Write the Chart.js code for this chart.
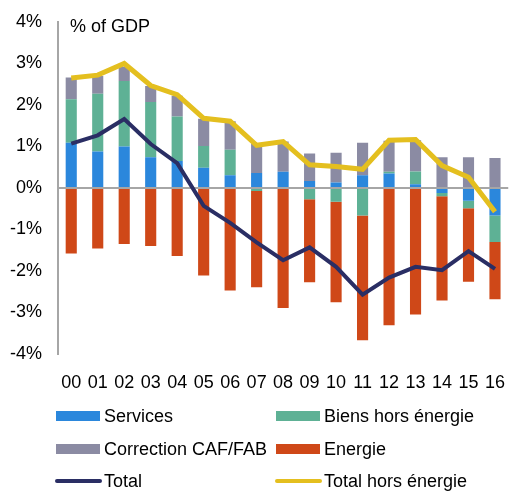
<!DOCTYPE html>
<html>
<head>
<meta charset="utf-8">
<script src="https://cdn.jsdelivr.net/npm/chart.js@4.4.1/dist/chart.umd.min.js"></script>
<style>
  html, body { margin: 0; padding: 0; background: #fff; }
  #wrap { width: 515px; height: 492px; }
</style>
</head>
<body>
<div id="wrap"><canvas id="chart" width="515" height="492"></canvas></div>
<script>
// years (x labels)
const years = ['00', '01', '02', '03', '04', '05', '06', '07', '08', '09', '10', '11', '12', '13', '14', '15', '16'];

// contributions, % of GDP
const services = [1.09, 0.88, 1.00, 0.74, 0.65, 0.49, 0.31, 0.36, 0.39, 0.17, 0.13, 0.31, 0.35, 0.09, -0.12, -0.31, -0.66];
const biensHorsEnergie = [1.05, 1.39, 1.58, 1.33, 1.07, 0.52, 0.61, -0.07, 0, -0.27, -0.33, -0.66, 0.04, 0.31, -0.08, -0.18, -0.64];
const correctionCafFab = [0.52, 0.43, 0.35, 0.39, 0.50, 0.66, 0.69, 0.71, 0.73, 0.66, 0.72, 0.78, 0.75, 0.75, 0.74, 0.74, 0.72];
const energie = [-1.58, -1.46, -1.35, -1.40, -1.64, -2.11, -2.47, -2.32, -2.89, -2.00, -2.42, -3.01, -3.31, -3.05, -2.51, -1.77, -1.38];
const total = [1.07, 1.27, 1.66, 1.06, 0.60, -0.43, -0.84, -1.31, -1.74, -1.43, -1.90, -2.57, -2.16, -1.90, -1.98, -1.52, -1.95];
const totalHorsEnergie = [2.65, 2.72, 3.00, 2.47, 2.25, 1.68, 1.61, 1.03, 1.12, 0.56, 0.52, 0.45, 1.15, 1.17, 0.54, 0.26, -0.57];

// y axis ticks
const yTicks = [-4, -3, -2, -1, 0, 1, 2, 3, 4];

const FONT = "'Liberation Sans', Arial, sans-serif";
const axisGray = '#a6a6a6';

function bar(label, data, color) {
    return {
        type: 'bar', label, data,
        backgroundColor: color,
        stack: 'bars', order: 1,
        barPercentage: 0.42, categoryPercentage: 1
    };
}

function line(label, data, color, width) {
    return {
        type: 'line', label, data,
        borderColor: color, backgroundColor: color,
        borderWidth: width, pointRadius: 0, tension: 0,
        stack: label, order: 0
    };
}

// legend in two columns + "% of GDP" label
const customText = {
    id: 'customText',
    afterDraw(chart) {
        const ctx = chart.ctx;
        ctx.save();
        ctx.fillStyle = '#000';
        ctx.font = '18px ' + FONT;
        ctx.textBaseline = 'middle';
        ctx.textAlign = 'left';
        ctx.fillText('% of GDP', 70, 27);

        const cols = [56, 276];
        const rows = [416, 449, 481];
        chart.data.datasets.forEach((ds, i) => {
            const x = cols[i % 2];
            const y = rows[Math.floor(i / 2)];
            if (ds.type === 'bar') {
                ctx.fillStyle = ds.backgroundColor;
                ctx.fillRect(x, y - 5, 44, 10);
            } else {
                ctx.strokeStyle = ds.borderColor;
                ctx.lineWidth = 4;
                ctx.lineCap = 'round';
                ctx.beginPath();
                ctx.moveTo(x + 1, y);
                ctx.lineTo(x + 44, y);
                ctx.stroke();
            }
            ctx.fillStyle = '#000';
            ctx.fillText(ds.label, x + 48, y + 1);
        });
        ctx.restore();
    }
};

new Chart(document.getElementById('chart'), {
    data: {
        labels: years,
        datasets: [
            bar('Services', services, '#2b87dc'),
            bar('Biens hors énergie', biensHorsEnergie, '#5eb195'),
            bar('Correction CAF/FAB', correctionCafFab, '#8b8ba3'),
            bar('Energie', energie, '#cf4818'),
            line('Total', total, '#2a2e64', 4),
            line('Total hors énergie', totalHorsEnergie, '#e4bf1f', 5)
        ]
    },
    options: {
        responsive: false,
        animation: false,
        layout: { padding: { top: 22, bottom: 100, left: 0, right: -2 } },
        plugins: {
            legend: { display: false },
            tooltip: { enabled: false }
        },
        scales: {
            x: {
                stacked: true,
                grid: { display: false },
                border: { display: false },
                ticks: { color: '#000', font: { family: FONT, size: 18 }, padding: 10, maxRotation: 0, autoSkip: false },
                afterFit(scale) { scale.height = 38; }
            },
            y: {
                stacked: true,
                min: -4, max: 4,
                afterBuildTicks(scale) { scale.ticks = yTicks.map(v => ({ value: v })); },
                ticks: {
                    color: '#000', font: { family: FONT, size: 18 }, padding: 16,
                    callback: v => v + '%'
                },
                grid: {
                    drawTicks: false,
                    color: c => (c.tick && c.tick.value === 0 ? axisGray : 'rgba(0,0,0,0)'),
                    lineWidth: 2
                },
                border: { display: true, color: axisGray, width: 2 },
                afterFit(scale) {
                    scale.width = 58;
                    scale.paddingTop = 0;
                    scale.paddingBottom = 0;
                }
            }
        }
    },
    plugins: [customText]
});
</script>
</body>
</html>
